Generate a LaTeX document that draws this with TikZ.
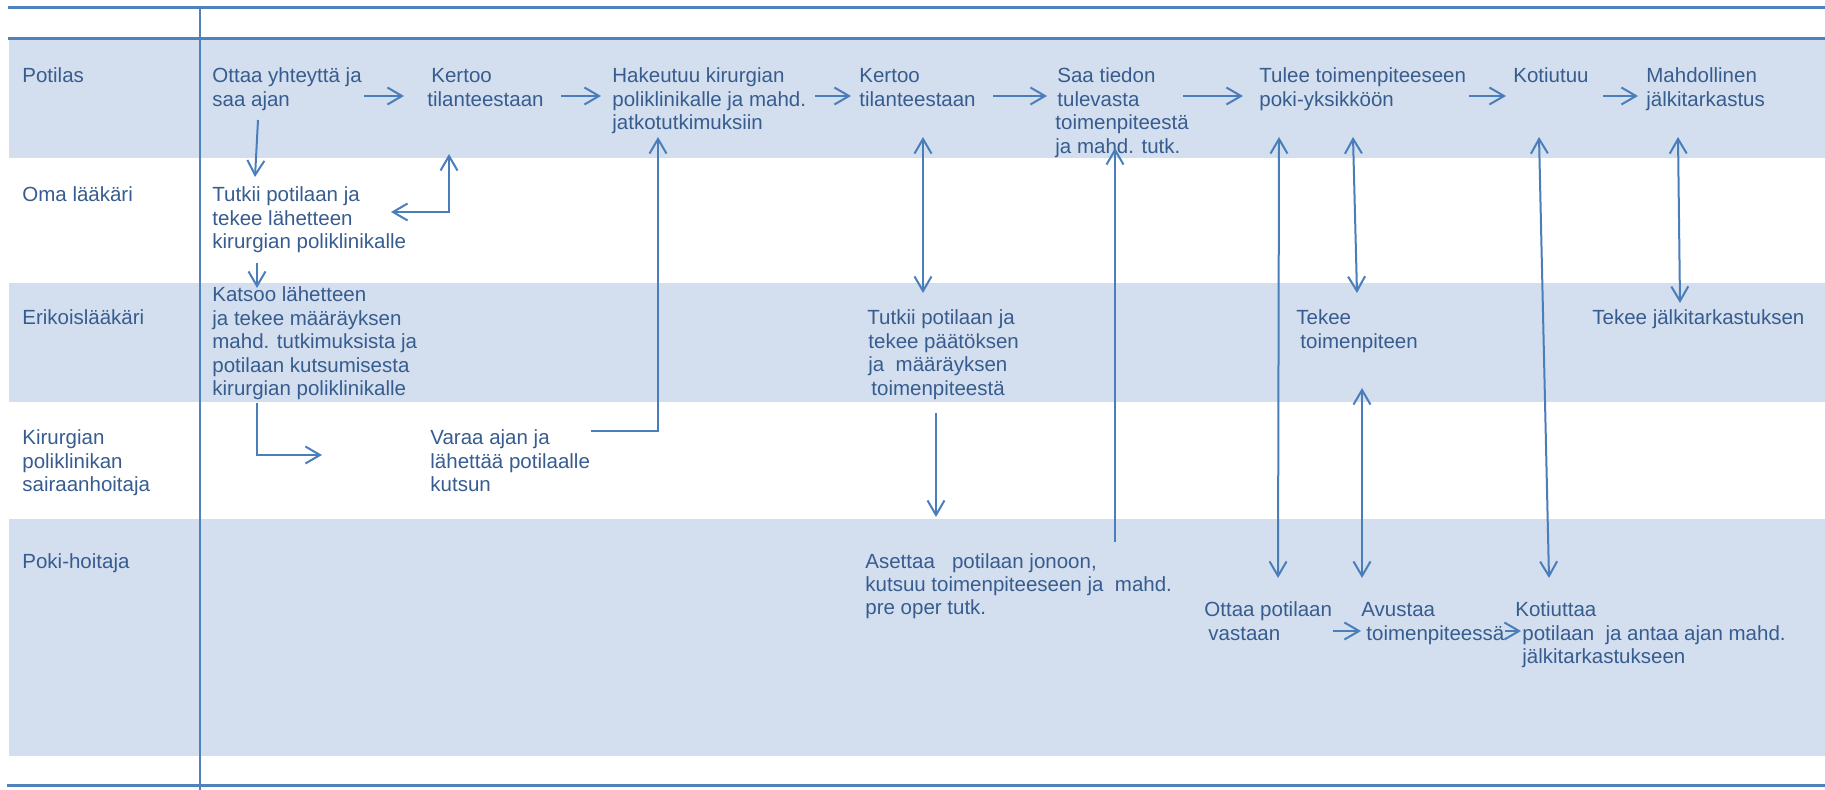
\documentclass[tikz,border=0pt]{standalone}
\usepackage{fontspec}
\setmainfont{Liberation Sans}
\usetikzlibrary{arrows.meta}
\definecolor{bandfill}{RGB}{211,223,238}
\definecolor{rulecol}{RGB}{79,129,189}
\definecolor{arrcol}{RGB}{74,126,187}
\definecolor{txtcol}{RGB}{55,92,143}
\newcommand{\mlines}[1]{\begin{tabular}[t]{@{}l@{}}#1\end{tabular}}
\tikzset{
  lbl/.style={anchor=base west, inner sep=0pt, text=txtcol, font=\fontsize{10.25}{11.7}\selectfont},
  barb/.tip={Straight Barb[length=7.3pt,width=8.5pt]},
  arr/.style={draw=arrcol, line width=1pt, -barb},
  darr/.style={draw=arrcol, line width=1pt, barb-barb},
  band/.style={fill=bandfill, draw=none},
  rulethick/.style={draw=rulecol, line width=1.5pt},
  rulethin/.style={draw=rulecol, line width=1pt},
}
\begin{document}
\begin{tikzpicture}[x=0.5pt,y=-0.5pt]
\useasboundingbox (0,0) rectangle (1825,790);
% bands
\fill[band] (9,39) rectangle (1825,158);
\fill[band] (9,283) rectangle (1825,402);
\fill[band] (9,519) rectangle (1825,756);
% rules
\draw[rulethick] (8,7.5) -- (1825,7.5);
\draw[rulethick] (8,38.5) -- (1825,38.5);
\draw[rulethick] (7,785) -- (1825,785);
\draw[rulethin] (200,7) -- (200,790);
% lane labels
\node[lbl] (l1) at (22,83) {Potilas};
\node[lbl] (l2) at (22,202) {Oma lääkäri};
\node[lbl] (l3) at (22,325) {Erikoislääkäri};
\node[lbl] (l4) at (22,445) {\mlines{Kirurgian\\poliklinikan\\sairaanhoitaja}};
\node[lbl] (l5) at (22,568) {Poki-hoitaja};
% Potilas row
\node[lbl] (p1) at (212,83) {\mlines{Ottaa yhteyttä ja\\saa ajan}};
\node[lbl] (p2) at (427,83) {\mlines{\hspace*{2pt}Kertoo\\tilanteestaan}};
\node[lbl] (p3) at (612,83) {\mlines{Hakeutuu kirurgian\\poliklinikalle ja mahd.\\jatkotutkimuksiin}};
\node[lbl] (p4) at (859,83) {\mlines{Kertoo\\tilanteestaan}};
\node[lbl] (p5) at (1055,83) {\mlines{\hspace*{1pt}Saa tiedon\\\hspace*{1pt}tulevasta\\toimenpiteestä\\ja mahd. tutk.}};
\node[lbl] (p6) at (1259,83) {\mlines{Tulee toimenpiteeseen\\poki-yksikköön}};
\node[lbl] (p7) at (1513,83) {Kotiutuu};
\node[lbl] (p8) at (1646,83) {\mlines{Mahdollinen\\jälkitarkastus}};
% Oma laakari row
\node[lbl] (o1) at (212,202) {\mlines{Tutkii potilaan ja\\tekee lähetteen\\kirurgian poliklinikalle}};
% Erikoislaakari row
\node[lbl] (e1) at (212,302) {\mlines{Katsoo lähetteen\\ja tekee määräyksen\\mahd. tutkimuksista ja\\potilaan kutsumisesta\\kirurgian poliklinikalle}};
\node[lbl] (e2) at (867,325) {\mlines{Tutkii potilaan ja\\\hspace*{0.5pt}tekee päätöksen\\\hspace*{0.5pt}ja\ \ määräyksen\\\hspace*{2pt}toimenpiteestä}};
\node[lbl] (e3) at (1296,325) {\mlines{Tekee\\\hspace*{2pt}toimenpiteen}};
\node[lbl] (e4) at (1592,325) {Tekee jälkitarkastuksen};
% Kirurgian row
\node[lbl] (k1) at (430,445) {\mlines{Varaa ajan ja\\lähettää potilaalle\\kutsun}};
% Poki row
\node[lbl] (k2) at (865,568) {\mlines{Asettaa\ \ \ potilaan jonoon,\\kutsuu toimenpiteeseen ja\ \ mahd.\\pre oper tutk.}};
\node[lbl] (k3) at (1204,617) {\mlines{Ottaa potilaan\\\hspace*{2pt}vastaan}};
\node[lbl] (k4) at (1361,617) {\mlines{Avustaa\\\hspace*{2.5pt}toimenpiteessä}};
\node[lbl] (k5) at (1515,617) {\mlines{Kotiuttaa\\\hspace*{3.5pt}potilaan\ \ ja antaa ajan mahd.\\\hspace*{3.5pt}jälkitarkastukseen}};
% connector end points
\coordinate (a1s) at (364,96);  \coordinate (a1e) at (404,96);
\coordinate (a2s) at (561,96);  \coordinate (a2e) at (601,96);
\coordinate (a3s) at (815,96);  \coordinate (a3e) at (851,96);
\coordinate (a4s) at (993,96);  \coordinate (a4e) at (1047,96);
\coordinate (a5s) at (1183,96); \coordinate (a5e) at (1243,96);
\coordinate (a6s) at (1469,96); \coordinate (a6e) at (1506,96);
\coordinate (a7s) at (1603,96); \coordinate (a7e) at (1638,96);
\coordinate (b1s) at (258,120); \coordinate (b1e) at (255,177);
\coordinate (b2s) at (391,212); \coordinate (b2m) at (449,212); \coordinate (b2e) at (449,154);
\coordinate (b3s) at (257,263); \coordinate (b3e) at (257,288);
\coordinate (b4s) at (257,403); \coordinate (b4m) at (257,455); \coordinate (b4e) at (322,455);
\coordinate (b5s) at (591,431); \coordinate (b5m) at (658,431); \coordinate (b5e) at (658,137);
\coordinate (c1s) at (923,137); \coordinate (c1e) at (923,293);
\coordinate (c2s) at (936,413); \coordinate (c2e) at (936,517);
\coordinate (c3s) at (1115,542); \coordinate (c3e) at (1115,148);
\coordinate (d1s) at (1279,137); \coordinate (d1e) at (1278,578);
\coordinate (d2s) at (1353,137); \coordinate (d2e) at (1357,293);
\coordinate (d3s) at (1362,388); \coordinate (d3e) at (1362,578);
\coordinate (d4s) at (1539,137); \coordinate (d4e) at (1549,578);
\coordinate (d5s) at (1678,137); \coordinate (d5e) at (1680,303);
\coordinate (f1s) at (1333,631); \coordinate (f1e) at (1361,631);
\coordinate (f2s) at (1505,631); \coordinate (f2e) at (1521,631);
% connectors
\draw[arr] (a1s) -- (a1e);
\draw[arr] (a2s) -- (a2e);
\draw[arr] (a3s) -- (a3e);
\draw[arr] (a4s) -- (a4e);
\draw[arr] (a5s) -- (a5e);
\draw[arr] (a6s) -- (a6e);
\draw[arr] (a7s) -- (a7e);
\draw[arr] (b1s) -- (b1e);
\draw[darr] (b2s) -- (b2m) -- (b2e);
\draw[arr] (b3s) -- (b3e);
\draw[arr] (b4s) -- (b4m) -- (b4e);
\draw[arr] (b5s) -- (b5m) -- (b5e);
\draw[darr] (c1s) -- (c1e);
\draw[arr] (c2s) -- (c2e);
\draw[arr] (c3s) -- (c3e);
\draw[darr] (d1s) -- (d1e);
\draw[darr] (d2s) -- (d2e);
\draw[darr] (d3s) -- (d3e);
\draw[darr] (d4s) -- (d4e);
\draw[darr] (d5s) -- (d5e);
\draw[arr] (f1s) -- (f1e);
\draw[arr] (f2s) -- (f2e);
\end{tikzpicture}
\end{document}
